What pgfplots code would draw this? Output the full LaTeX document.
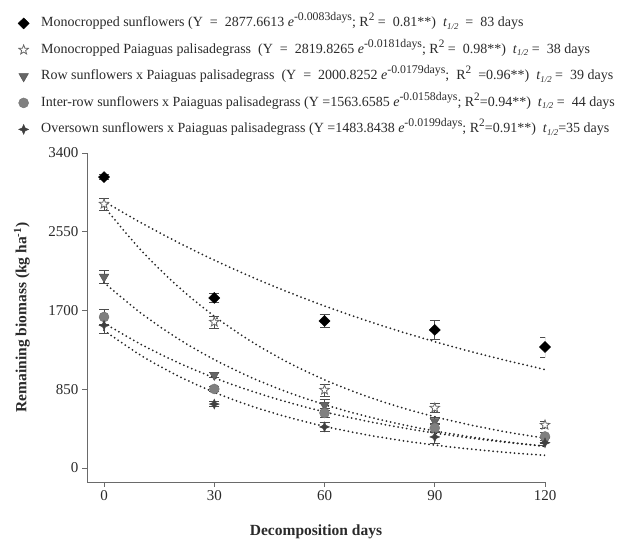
\documentclass[border=0pt]{standalone}
\usepackage{fontspec}
\setmainfont{Liberation Serif}
\usepackage{pgfplots}
\pgfplotsset{compat=1.18}

% five-pointed outline star
\pgfdeclareplotmark{pstar}{%
  \pgfpathmoveto{\pgfqpoint{0pt}{\pgfplotmarksize}}%
  \pgfpathlineto{\pgfqpoint{0.2469\pgfplotmarksize}{0.3398\pgfplotmarksize}}%
  \pgfpathlineto{\pgfqpoint{0.9511\pgfplotmarksize}{0.3090\pgfplotmarksize}}%
  \pgfpathlineto{\pgfqpoint{0.3995\pgfplotmarksize}{-0.1298\pgfplotmarksize}}%
  \pgfpathlineto{\pgfqpoint{0.5878\pgfplotmarksize}{-0.8090\pgfplotmarksize}}%
  \pgfpathlineto{\pgfqpoint{0pt}{-0.42\pgfplotmarksize}}%
  \pgfpathlineto{\pgfqpoint{-0.5878\pgfplotmarksize}{-0.8090\pgfplotmarksize}}%
  \pgfpathlineto{\pgfqpoint{-0.3995\pgfplotmarksize}{-0.1298\pgfplotmarksize}}%
  \pgfpathlineto{\pgfqpoint{-0.9511\pgfplotmarksize}{0.3090\pgfplotmarksize}}%
  \pgfpathlineto{\pgfqpoint{-0.2469\pgfplotmarksize}{0.3398\pgfplotmarksize}}%
  \pgfpathclose
  \pgfusepathqfillstroke}
% four-pointed star
\pgfdeclareplotmark{fstar}{%
  \pgfpathmoveto{\pgfqpoint{0pt}{\pgfplotmarksize}}%
  \pgfpathlineto{\pgfqpoint{0.3\pgfplotmarksize}{0.3\pgfplotmarksize}}%
  \pgfpathlineto{\pgfqpoint{\pgfplotmarksize}{0pt}}%
  \pgfpathlineto{\pgfqpoint{0.3\pgfplotmarksize}{-0.3\pgfplotmarksize}}%
  \pgfpathlineto{\pgfqpoint{0pt}{-\pgfplotmarksize}}%
  \pgfpathlineto{\pgfqpoint{-0.3\pgfplotmarksize}{-0.3\pgfplotmarksize}}%
  \pgfpathlineto{\pgfqpoint{-\pgfplotmarksize}{0pt}}%
  \pgfpathlineto{\pgfqpoint{-0.3\pgfplotmarksize}{0.3\pgfplotmarksize}}%
  \pgfpathclose
  \pgfusepathqfillstroke}

\definecolor{axgray}{HTML}{6A6A6A}
\definecolor{txtgray}{HTML}{2A2A2A}

% pieces of the legend equations
\newcommand\ex[1]{\textit{e}\raisebox{6pt}{\fontsize{11.8}{12}\selectfont #1}}
\newcommand\rsq{R\raisebox{6pt}{\fontsize{11.3}{12}\selectfont 2}}
\newcommand\thalf{\textit{t}\raisebox{-2.5pt}{\fontsize{8.8}{9}\selectfont\textit{1/2}}}

\pgfplotsset{
  fitline/.style={forget plot, smooth, draw=black!85, line width=2pt,
    line cap=round, dash pattern=on 0pt off 4.3pt},
  ebars/.style={error bars/.cd, y dir=both, y explicit,
    error bar style={line width=0.8pt, draw=black!70},
    error mark options={rotate=90, mark size=5pt, line width=0.8pt, draw=black!70}},
}

\begin{document}
\begin{tikzpicture}
\begin{axis}[
  name=ax,
  scale only axis,
  width=458pt, height=329pt,
  xmin=-4.63, xmax=120, ymin=-151, ymax=3400,
  axis x line=bottom, axis y line=left,
  axis line style={-, draw=axgray, line width=0.9pt},
  xtick={0,30,60,90,120},
  ytick={0,850,1700,2550,3400},
  tick align=outside,
  major tick length=5pt,
  tick style={draw=axgray, line width=0.9pt},
  ticklabel style={font=\fontsize{15}{17}\selectfont, text=txtgray},
  /pgf/number format/assume math mode=true,
  /pgf/number format/1000 sep={},
  xlabel={Decomposition days},
  ylabel={Remaining biomass (kg ha\textsuperscript{-1})},
  label style={font=\bfseries\fontsize{15.5}{18}\selectfont, text=txtgray},
  xlabel style={at={(axis description cs:0.5,-0.152)}, anchor=center},
  ylabel style={at={(axis description cs:-0.142,0.5)}, anchor=center},
  legend cell align=left,
  legend style={at={(axis description cs:-0.1575,1.421)}, anchor=north west,
    draw=none, fill=none, font=\fontsize{14}{15}\selectfont, text=txtgray,
    row sep=13pt, column sep=12pt,
    nodes={inner sep=0pt, text height=10pt, text depth=3.5pt}},
]

% fitted exponential curves
\addplot[fitline] coordinates {(0,2877.7) (10,2648.4) (20,2437.5) (30,2243.4)
  (40,2064.7) (50,1900.2) (60,1748.9) (70,1609.6) (80,1481.4) (90,1363.4)
  (100,1254.8) (110,1154.9) (120,1062.9)};
\addplot[fitline] coordinates {(0,2819.8) (10,2352.9) (20,1963.5) (30,1638.3)
  (40,1367.1) (50,1140.7) (60,951.9) (70,794.3) (80,662.8) (90,553.0)
  (100,461.5) (110,385.1) (120,321.3)};
\addplot[fitline] coordinates {(0,2000.8) (10,1672.9) (20,1398.7) (30,1169.5)
  (40,977.8) (50,817.6) (60,683.6) (70,571.6) (80,477.9) (90,399.6)
  (100,334.1) (110,279.3) (120,233.5)};
\addplot[fitline] coordinates {(0,1563.7) (10,1335.1) (20,1140.0) (30,973.4)
  (40,831.1) (50,709.7) (60,605.9) (70,517.4) (80,441.8) (90,377.2)
  (100,322.1) (110,275.0) (120,234.8)};
\addplot[fitline] coordinates {(0,1483.8) (10,1216.1) (20,996.6) (30,816.8)
  (40,669.4) (50,548.6) (60,449.6) (70,368.5) (80,302.0) (90,247.5)
  (100,202.8) (110,166.2) (120,136.2)};

% observed means with error bars
\addplot[only marks, mark=diamond*, mark size=5.5pt,
  mark options={xscale=1.35, fill=black, draw=black}, ebars]
  coordinates {(0,3140) +- (0,25) (30,1835) +- (0,45) (60,1587) +- (0,70)
  (90,1490) +- (0,105) (120,1306) +- (0,108)};
\addlegendentry{Monocropped sunflowers (Y \ = \ 2877.6613 \ex{-0.0083days}; \rsq\ = \ 0.81**) \ \thalf\ \ = \ 83 days}

\addplot[only marks, mark=pstar, mark size=5pt,
  mark options={fill=white, draw=black!60, line width=0.8pt}, ebars]
  coordinates {(0,2850) +- (0,65) (30,1576) +- (0,65) (60,842) +- (0,65)
  (90,648) +- (0,50) (120,464) +- (0,40)};
\addlegendentry{Monocropped Paiaguas palisadegrass \ (Y \ = \ 2819.8265 \ex{-0.0181days}; \rsq\ = \ 0.98**) \ \thalf\ = \ 38 days}

\addplot[only marks, mark=triangle*, mark size=5.5pt,
  mark options={rotate=180, fill=black!60, draw=black!70}, ebars]
  coordinates {(0,2062) +- (0,70) (30,1004) +- (0,30) (60,680) +- (0,60)
  (90,507) +- (0,40) (120,300) +- (0,30)};
\addlegendentry{Row sunflowers x Paiaguas palisadegrass \ (Y \ = \ 2000.8252 \ex{-0.0179days}; \ \rsq\ \ =0.96**) \ \thalf\ = \ 39 days}

\addplot[only marks, mark=*, mark size=5pt,
  mark options={fill=black!50, draw=black!55}, ebars]
  coordinates {(0,1630) +- (0,80) (30,853) +- (0,30) (60,594) +- (0,50)
  (90,432) +- (0,50) (120,340) +- (0,40)};
\addlegendentry{Inter-row sunflowers x Paiaguas palisadegrass (Y =1563.6585 \ex{-0.0158days}; \rsq=0.94**) \ \thalf\ = \ 44 days}

\addplot[only marks, mark=fstar, mark size=5pt,
  mark options={fill=black!75, draw=black!75}, ebars]
  coordinates {(0,1540) +- (0,90) (30,690) +- (0,30) (60,443) +- (0,50)
  (90,335) +- (0,65) (120,272) +- (0,30)};
\addlegendentry{Oversown sunflowers x Paiaguas palisadegrass (Y =1483.8438 \ex{-0.0199days}; \rsq=0.91**) \ \thalf=35 days}

\coordinate (bbl) at (rel axis cs:-0.19,-0.1733);
\coordinate (btr) at (rel axis cs:1.1703,1.465);
\end{axis}
\pgfresetboundingbox
\useasboundingbox (bbl) rectangle (btr);
\end{tikzpicture}
\end{document}
